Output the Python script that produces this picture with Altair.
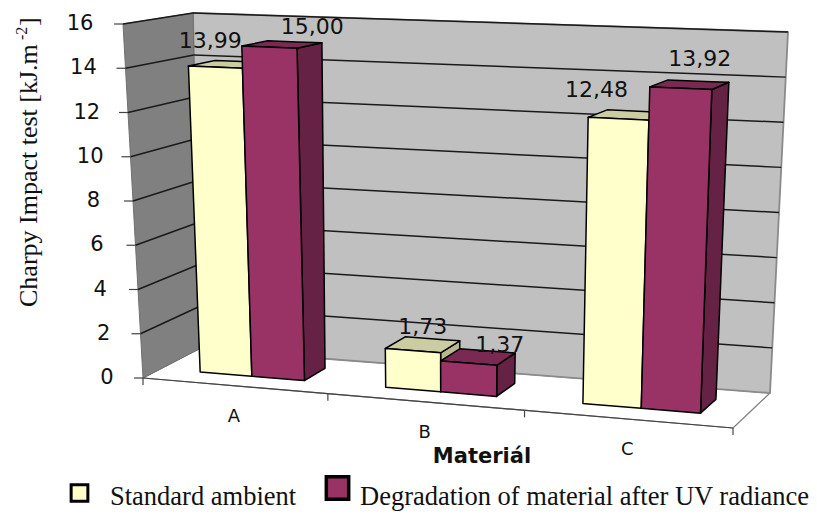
import altair as alt
import pandas as pd

categories = ["A", "B", "C"]
standard = [13.99, 1.73, 12.48]
degradation = [15.00, 1.37, 13.92]
standard_labels = ["13,99", "1,73", "12,48"]
degradation_labels = ["15,00", "1,37", "13,92"]
y_ticks = [0, 2, 4, 6, 8, 10, 12, 14, 16]

VMAX = 16.0
K = 0.03
# oblique scene frame: (category, depth, value) -> picture units
FBL, FBR, BBL, BBR = (143, 378), (733, 428), (199, 349), (770, 393)
FTL, FTR, BTL, BTR = (123, 24), (747, 48), (193, 13), (788, 32)


def lerp(a, b, t):
    return (a[0] + (b[0] - a[0]) * t, a[1] + (b[1] - a[1]) * t)


def P(u, d, v):
    t = (u - K * u * (3 - u)) / 3
    w = v / VMAX
    fb = lerp(FBL, FBR, t)
    bb = lerp(BBL, BBR, t)
    ft = lerp(FTL, FTR, t)
    bt = lerp(BTL, BTR, t)
    return lerp(lerp(fb, bb, d), lerp(ft, bt, d), w)


X = alt.Scale(domain=[8, 809], range=[0, 801])
Y = alt.Scale(domain=[8, 513], range=[0, 505])


def enc(**kw):
    out = {}
    for k, f in kw.items():
        if k == "x":
            out[k] = alt.X(f, type="quantitative", scale=X, axis=None)
        elif k == "y":
            out[k] = alt.Y(f, type="quantitative", scale=Y, axis=None)
        elif k == "x2":
            out[k] = alt.X2(f)
        elif k == "y2":
            out[k] = alt.Y2(f)
    return out


def poly(pts, fill, stroke="#000000", sw=1.5):
    """Convex polygon as an area with piecewise-linear upper and lower edges."""
    xs = sorted({round(p[0], 3) for p in pts})
    n = len(pts)
    rows = []
    for x in xs:
        ys = []
        for i in range(n):
            a, b = pts[i], pts[(i + 1) % n]
            lo, hi = min(a[0], b[0]), max(a[0], b[0])
            if lo - 1e-3 <= x <= hi + 1e-3:
                if abs(b[0] - a[0]) < 1e-6:
                    ys += [a[1], b[1]]
                else:
                    ys.append(a[1] + (b[1] - a[1]) * (x - a[0]) / (b[0] - a[0]))
        rows.append({"x": x, "y": min(ys), "y2": max(ys)})
    return alt.Chart(pd.DataFrame(rows)).mark_area(
        fill=fill, stroke=stroke, strokeWidth=sw, opacity=1, strokeJoin="round"
    ).encode(**enc(x="x", y="y", y2="y2"))


def line(segments, color, sw):
    rows = []
    for i, (a, b) in enumerate(segments):
        rows.append({"x": a[0], "y": a[1], "id": i, "o": 0})
        rows.append({"x": b[0], "y": b[1], "id": i, "o": 1})
    return alt.Chart(pd.DataFrame(rows)).mark_line(color=color, strokeWidth=sw).encode(
        detail="id:N", order="o:Q", **enc(x="x", y="y")
    )


def texts(rows, **mark):
    return alt.Chart(pd.DataFrame(rows)).mark_text(color="#111111", **mark).encode(
        text="t:N", **enc(x="x", y="y")
    )


layers = []
# floor and walls
layers.append(poly([P(0, 0, 0), P(0, 1, 0), P(3, 1, 0), P(3, 0, 0)], "#ffffff", "#808080", 1.2))
layers.append(poly([P(0, 1, 0), P(3, 1, 0), P(3, 1, VMAX), P(0, 1, VMAX)], "#c0c0c0", "#8a8a8a", 1.8))
layers.append(poly([P(0, 0, 0), P(0, 1, 0), P(0, 1, VMAX), P(0, 0, VMAX)], "#808080", "#707070", 1))
# grid lines
grid = []
for v in y_ticks[1:]:
    grid.append((P(0, 0, v), P(0, 1, v)))
    grid.append((P(0, 1, v), P(3, 1, v)))
layers.append(line(grid, "#1a1a1a", 1.5))
# axis lines and ticks
axis = [(P(0, 0, 0), P(3, 0, 0))]
for c in range(4):
    a = P(c, 0, 0)
    axis.append((a, (a[0], a[1] + 7)))
for v in y_ticks:
    a = P(0, 0, v)
    axis.append(((a[0] - 9, a[1]), a))
layers.append(line(axis, "#444444", 1.2))

# bars
HALF = 0.285
SHIFT = 0.005
D0, D1 = 0.32, 0.72
YEL = ("#ffffcc", "#cccca3", "#b8b88f")
PUR = ("#993366", "#7a2952", "#662244")


def bar(u0, u1, v, colors):
    front, top, side = colors
    return [
        poly([P(u1, D0, 0), P(u1, D1, 0), P(u1, D1, v), P(u1, D0, v)], side),
        poly([P(u0, D0, v), P(u1, D0, v), P(u1, D1, v), P(u0, D1, v)], top),
        poly([P(u0, D0, 0), P(u1, D0, 0), P(u1, D0, v), P(u0, D0, v)], front),
    ]


for i in range(len(categories)):
    c = i + 0.5 + SHIFT
    layers += bar(c - HALF, c, standard[i], YEL)
    layers += bar(c, c + HALF, degradation[i], PUR)

# value labels
std_off = [(-5, -26), (10, -24), (-22, -29)]
deg_off = [(43, -20), (31, -18), (19, -29)]
rows = []
for i in range(len(categories)):
    c = i + 0.5 + SHIFT
    p = P(c - HALF / 2, D0, standard[i])
    rows.append({"x": p[0] + std_off[i][0], "y": p[1] + std_off[i][1], "t": standard_labels[i]})
    p = P(c + HALF / 2, D0, degradation[i])
    rows.append({"x": p[0] + deg_off[i][0], "y": p[1] + deg_off[i][1], "t": degradation_labels[i]})
layers.append(texts(rows, font="DejaVu Sans", fontSize=22, align="center", baseline="middle"))

# tick labels
rows = [{"x": P(0, 0, v)[0] - 36 - 7 * v / VMAX, "y": P(0, 0, v)[1], "t": str(v)} for v in y_ticks]
layers.append(texts(rows, font="DejaVu Sans", fontSize=21, align="center", baseline="middle"))

# category labels
rows = [{"x": P(i + 0.5, 0, 0)[0], "y": P(i + 0.5, 0, 0)[1] + 31, "t": c} for i, c in enumerate(categories)]
layers.append(texts(rows, font="DejaVu Sans", fontSize=18, align="center", baseline="middle"))

# axis titles
layers.append(texts([{"x": 482, "y": 457, "t": "Materiál"}], font="DejaVu Sans", fontWeight="bold",
                    fontSize=21, align="center", baseline="middle"))
layers.append(texts([{"x": 37, "y": 307, "t": "Charpy Impact test [kJ.m"}], font="Liberation Serif",
                    fontSize=26, angle=270, align="left", baseline="alphabetic"))
layers.append(texts([{"x": 27, "y": 40, "t": "-2"}], font="Liberation Serif",
                    fontSize=16, angle=270, align="left", baseline="alphabetic"))
layers.append(texts([{"x": 37, "y": 26, "t": "]"}], font="Liberation Serif",
                    fontSize=26, angle=270, align="left", baseline="alphabetic"))

# legend
legend_yellow = alt.Chart(pd.DataFrame([{"x": 79.5, "y": 493}])).mark_square(
    size=280, fill=YEL[0], stroke="#000000", strokeWidth=3, opacity=1).encode(**enc(x="x", y="y"))
legend_purple = alt.Chart(pd.DataFrame([{"x": 337.5, "y": 488}])).mark_square(
    size=500, fill=PUR[0], stroke="#000000", strokeWidth=3.5, opacity=1).encode(**enc(x="x", y="y"))
layers += [legend_yellow, legend_purple]
layers.append(texts([{"x": 110, "y": 505, "t": "Standard ambient"},
                     {"x": 360, "y": 505, "t": "Degradation of material after UV radiance"}],
                    font="Liberation Serif", fontSize=26.5, align="left", baseline="alphabetic"))

chart = alt.layer(*layers).properties(
    width=801, height=505, padding=0, autosize=alt.AutoSizeParams(type="none"),
    background="#ffffff",
).configure_view(stroke=None)

chart.save("out.html", embed_options={"renderer": "svg", "actions": False})
